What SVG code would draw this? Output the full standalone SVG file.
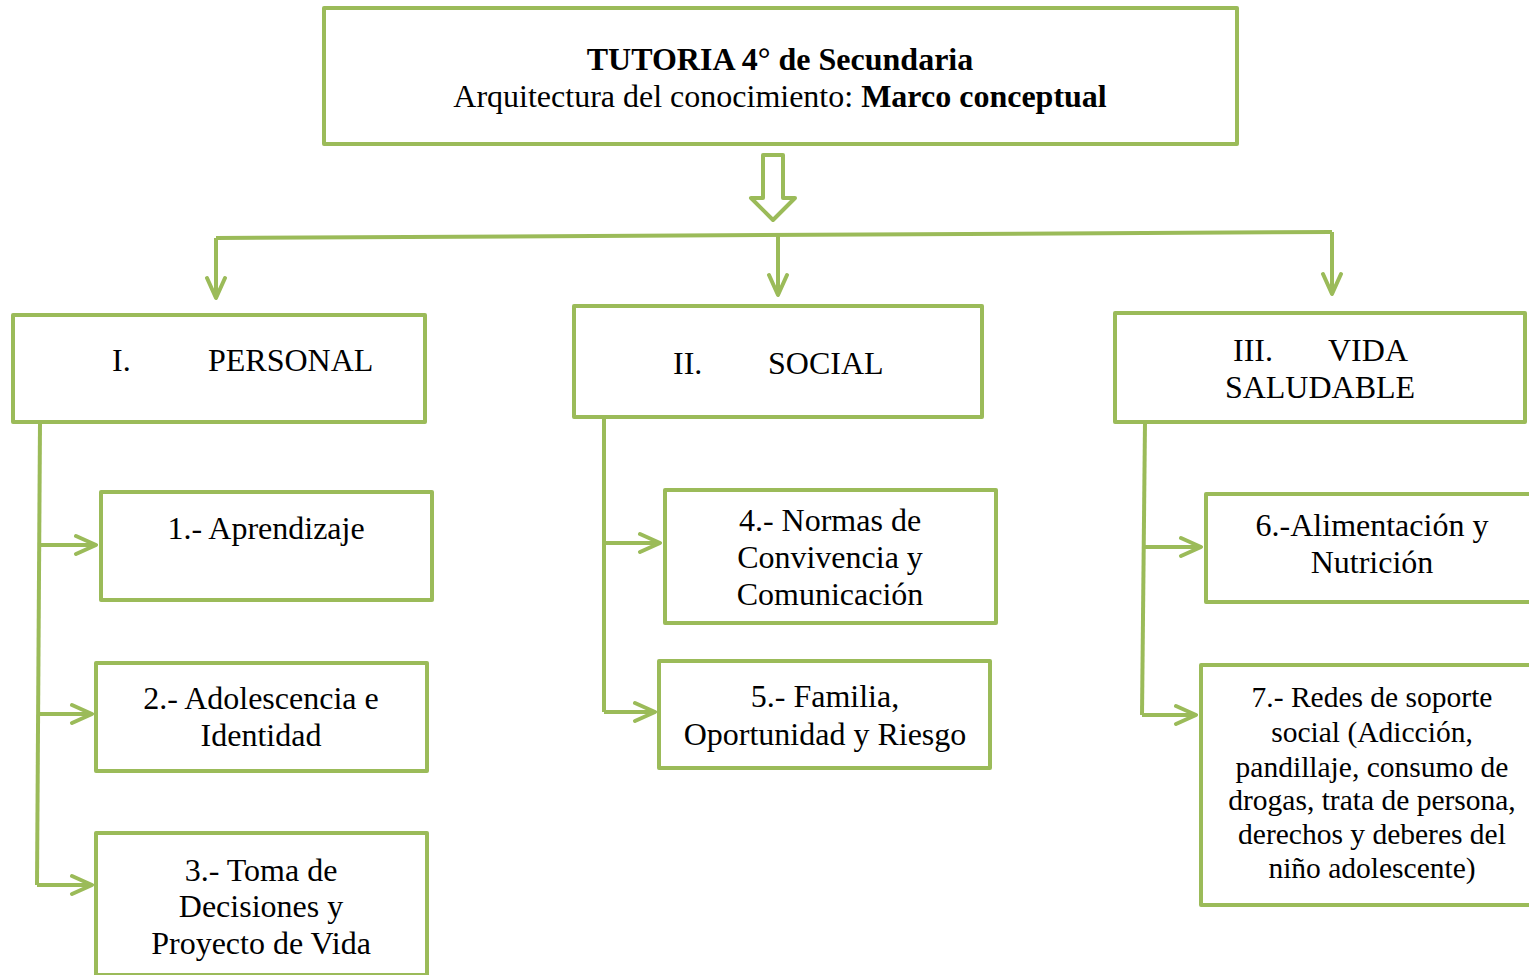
<svg xmlns="http://www.w3.org/2000/svg" width="1529" height="975" viewBox="0 0 1529 975">
<style>
.box{fill:#fff;stroke:#9BBB59;stroke-width:4;stroke-linejoin:round}
.ln{fill:none;stroke:#9BBB59;stroke-width:4;stroke-linejoin:round}
.t{font-family:"Liberation Serif","Times New Roman",serif;font-size:32px;fill:#000}
.s{font-size:29.5px}
.c{text-anchor:middle}
.b{font-weight:bold}
</style>
<defs>
<marker id="ah" viewBox="-24 -12 26 24" refX="0" refY="0" markerWidth="26" markerHeight="24" orient="auto" markerUnits="userSpaceOnUse">
<path d="M-20,-9 L0,0 L-20,9" fill="none" stroke="#9BBB59" stroke-width="4" stroke-linecap="round" stroke-linejoin="round"/>
</marker>
</defs>
<rect width="1529" height="975" fill="#fff"/>
<g id="connectors">
<polygon class="ln" points="763,155 783,155 783,198 795,198 773,220 751,198 763,198" style="fill:#fff"/>
<path class="ln" d="M216,238 L1332,232"/>
<path class="ln" d="M216,238 V298" marker-end="url(#ah)"/>
<path class="ln" d="M778,235 V295" marker-end="url(#ah)"/>
<path class="ln" d="M1332,232 V294" marker-end="url(#ah)"/>
<path class="ln" d="M40,422 L37,885"/>
<path class="ln" d="M40,545 H96" marker-end="url(#ah)"/>
<path class="ln" d="M38,714 H92" marker-end="url(#ah)"/>
<path class="ln" d="M37,885 H92" marker-end="url(#ah)"/>
<path class="ln" d="M604,417 V712"/>
<path class="ln" d="M604,543 H660" marker-end="url(#ah)"/>
<path class="ln" d="M604,712 H655" marker-end="url(#ah)"/>
<path class="ln" d="M1145,422 L1142,715"/>
<path class="ln" d="M1144,547 H1201" marker-end="url(#ah)"/>
<path class="ln" d="M1142,715 H1196" marker-end="url(#ah)"/>
</g>
<g id="title">
<rect class="box" x="324" y="8" width="913" height="136"/>
<text class="t c b" x="780" y="70">TUTORIA 4° de Secundaria</text>
<text class="t c" x="780" y="107">Arquitectura del conocimiento: <tspan class="b">Marco conceptual</tspan></text>
</g>
<g id="personal">
<rect class="box" x="13" y="315" width="412" height="107"/>
<text class="t" x="112" y="371">I.</text>
<text class="t" x="208" y="371">PERSONAL</text>
</g>
<g id="social">
<rect class="box" x="574" y="306" width="408" height="111"/>
<text class="t" x="673" y="374">II.</text>
<text class="t" x="768" y="374">SOCIAL</text>
</g>
<g id="vida">
<rect class="box" x="1115" y="313" width="410" height="109"/>
<text class="t" x="1233" y="361">III.</text>
<text class="t" x="1328" y="361">VIDA</text>
<text class="t c" x="1320" y="398">SALUDABLE</text>
</g>
<g id="n1">
<rect class="box" x="101" y="492" width="331" height="108"/>
<text class="t c" x="266" y="539">1.- Aprendizaje</text>
</g>
<g id="n2">
<rect class="box" x="96" y="663" width="331" height="108"/>
<text class="t c" x="261" y="709">2.- Adolescencia e</text>
<text class="t c" x="261" y="746">Identidad</text>
</g>
<g id="n3">
<rect class="box" x="96" y="833" width="331" height="142"/>
<text class="t c" x="261" y="881">3.- Toma de</text>
<text class="t c" x="261" y="917">Decisiones y</text>
<text class="t c" x="261" y="954">Proyecto de Vida</text>
</g>
<g id="n4">
<rect class="box" x="665" y="490" width="331" height="133"/>
<text class="t c" x="830" y="531">4.- Normas de</text>
<text class="t c" x="830" y="568">Convivencia y</text>
<text class="t c" x="830" y="605">Comunicación</text>
</g>
<g id="n5">
<rect class="box" x="659" y="661" width="331" height="107"/>
<text class="t c" x="825" y="707">5.- Familia,</text>
<text class="t c" x="825" y="745">Oportunidad y Riesgo</text>
</g>
<g id="n6">
<rect class="box" x="1206" y="494" width="340" height="108"/>
<text class="t c" x="1372" y="536">6.-Alimentación y</text>
<text class="t c" x="1372" y="573">Nutrición</text>
</g>
<g id="n7">
<rect class="box" x="1201" y="665" width="345" height="240"/>
<text class="t s c" x="1372" y="707">7.- Redes de soporte</text>
<text class="t s c" x="1372" y="742">social (Adicción,</text>
<text class="t s c" x="1372" y="777">pandillaje, consumo de</text>
<text class="t s c" x="1372" y="810">drogas, trata de persona,</text>
<text class="t s c" x="1372" y="844">derechos y deberes del</text>
<text class="t s c" x="1372" y="878">niño adolescente)</text>
</g>
</svg>
